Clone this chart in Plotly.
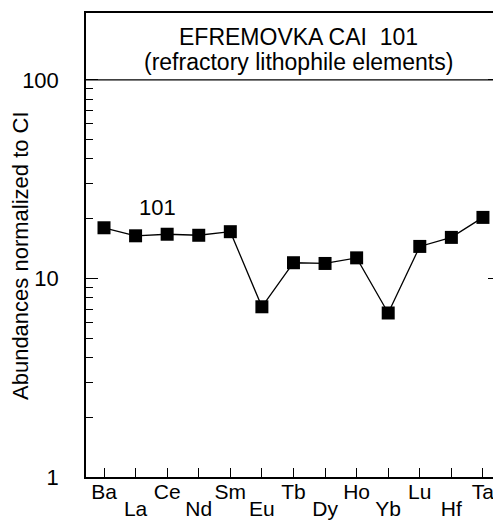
import plotly.graph_objects as go

elements = ["Ba", "La", "Ce", "Nd", "Sm", "Eu", "Tb", "Dy", "Ho", "Yb", "Lu", "Hf", "Ta"]
abundances = [18.0, 16.4, 16.7, 16.5, 17.2, 7.2, 12.0, 11.9, 12.7, 6.7, 14.5, 16.1, 20.3]
major_ticks = [1, 10, 100]
minor_ticks = [2, 3, 4, 5, 6, 7, 8, 9, 20, 30, 40, 50, 60, 70, 80, 90]
title_line1 = "EFREMOVKA CAI  101"
title_line2 = "(refractory lithophile elements)"
y_title = "Abundances normalized to CI"
sample_label = "101"

FONT = "Liberation Sans, Arial, Helvetica, sans-serif"
x_idx = list(range(len(elements)))
upper_text = [e if i % 2 == 0 else "" for i, e in enumerate(elements)]
lower_text = [e if i % 2 == 1 else "" for i, e in enumerate(elements)]

# page has an 8px body offset: figure sized so it fits the 501x521 window
W, H = 493, 513
ML, MR, MT, MB = 78, 1, 5, 44
X_RANGE = [-0.57, 12.54]
y_top_log = 2.337

fig = go.Figure()
fig.add_trace(go.Scatter(
    x=x_idx, y=abundances, mode="lines+markers",
    line=dict(color="black", width=1.3),
    marker=dict(symbol="square", size=13, color="black"),
    showlegend=False, hoverinfo="x+y",
))
# invisible companion trace that carries the second (staggered) label row
fig.add_trace(go.Scatter(
    x=x_idx, y=abundances, xaxis="x2", mode="markers",
    marker=dict(opacity=0), showlegend=False, hoverinfo="skip",
))

axis_common = dict(showgrid=False, zeroline=False, automargin=False)
fig.update_layout(
    width=W, height=H, template=None,
    margin=dict(l=ML, r=MR, t=MT, b=MB, pad=0),
    paper_bgcolor="white", plot_bgcolor="white",
    font=dict(family=FONT, color="black"),
    xaxis=dict(
        range=X_RANGE, tickmode="array", tickvals=x_idx, ticktext=upper_text,
        ticks="inside", ticklen=9, tickwidth=1, tickcolor="black",
        showline=True, linecolor="black", linewidth=1.5, mirror=True,
        tickfont=dict(size=21, family=FONT), ticklabelstandoff=-5, **axis_common,
    ),
    xaxis2=dict(
        range=X_RANGE, overlaying="x", anchor="y", side="bottom",
        tickmode="array", tickvals=x_idx, ticktext=lower_text, ticks="",
        showline=False, tickfont=dict(size=21, family=FONT),
        ticklabelstandoff=17, **axis_common,
    ),
    yaxis=dict(
        type="log", range=[0, y_top_log], tickmode="array", tickvals=major_ticks,
        ticktext=[str(v) for v in major_ticks],
        ticks="inside", ticklen=12, tickwidth=1, tickcolor="black",
        minor=dict(tickmode="array", tickvals=minor_ticks, ticks="inside", ticklen=7,
                   tickwidth=1, tickcolor="black", showgrid=False),
        showline=True, linecolor="black", linewidth=1.5, mirror="ticks",
        tickfont=dict(size=22, family=FONT), ticklabelstandoff=21, **axis_common,
    ),
)

# separator line at 100 (bottom of the title box)
y100 = 2 / y_top_log
fig.add_shape(type="line", xref="paper", yref="paper", x0=0, x1=1, y0=y100, y1=y100,
              line=dict(color="black", width=1.3))

plot_w = W - ML - MR
plot_h = H - MT - MB

def px_to_paper(px, py):
    # px, py are screen pixels of the reference (window coords)
    fx = px - 8 - ML
    fy = py - 8 - MT
    return fx / plot_w, 1 - fy / plot_h

tx, ty1 = px_to_paper(298, 37)
_, ty2 = px_to_paper(298, 62)
fig.add_annotation(xref="paper", yref="paper", x=tx, y=ty1, xanchor="center", yanchor="middle",
                   text=title_line1, showarrow=False, font=dict(size=23, family=FONT))
fig.add_annotation(xref="paper", yref="paper", x=tx, y=ty2, xanchor="center", yanchor="middle",
                   text=title_line2, showarrow=False, font=dict(size=23, family=FONT))
lx, ly = px_to_paper(157, 207)
fig.add_annotation(xref="paper", yref="paper", x=lx, y=ly, xanchor="center", yanchor="middle",
                   text=sample_label, showarrow=False, font=dict(size=22, family=FONT))
ax_, ay_ = px_to_paper(21, 256)
fig.add_annotation(xref="paper", yref="paper", x=ax_, y=ay_, textangle=-90,
                   xanchor="center", yanchor="middle",
                   text=y_title, showarrow=False, font=dict(size=22, family=FONT))

fig.write_html("out.html")
